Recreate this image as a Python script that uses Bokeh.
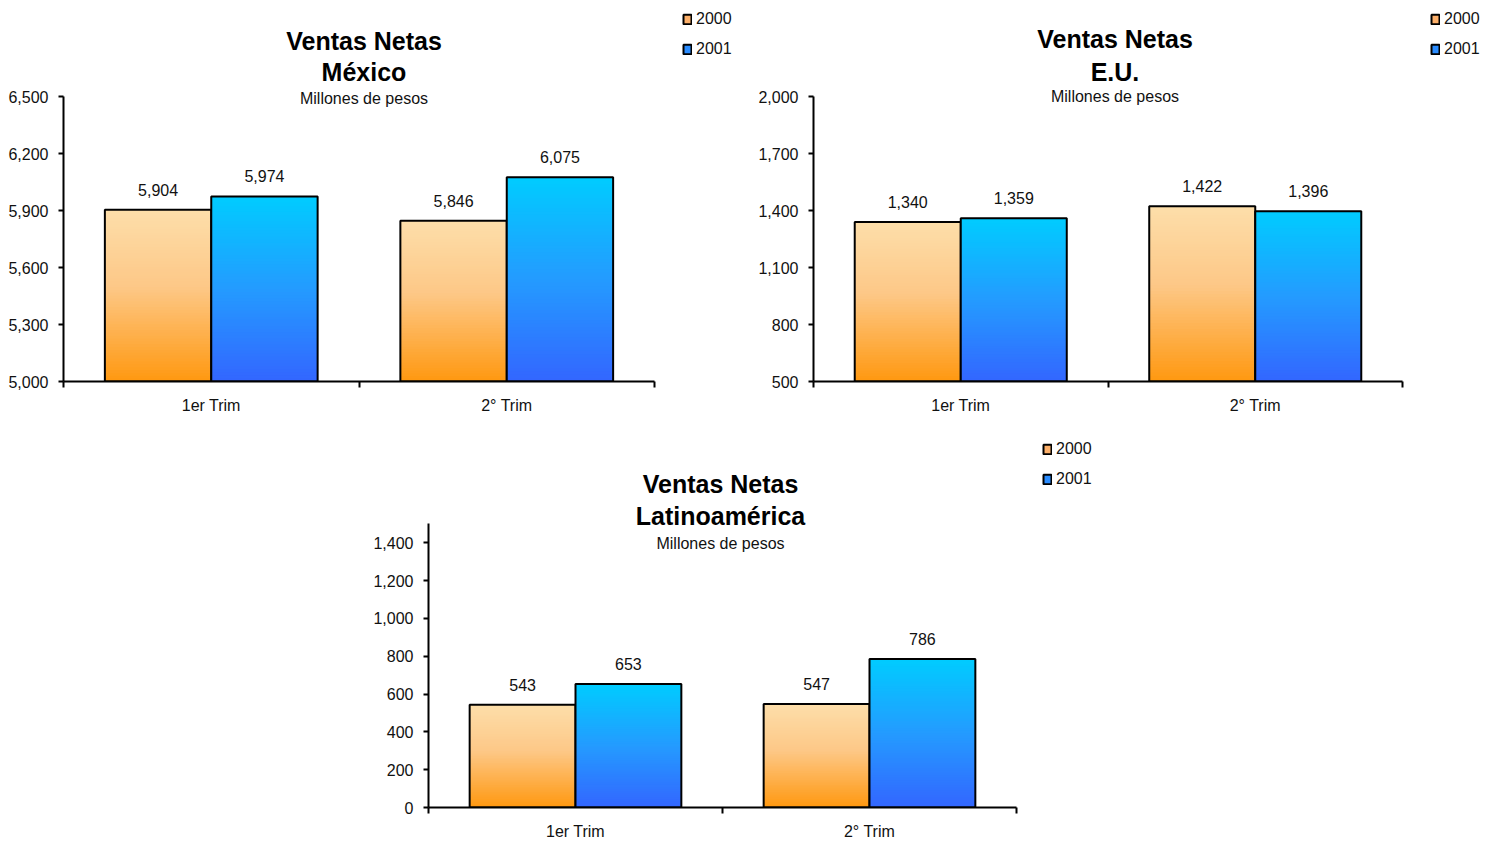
from bokeh.plotting import figure
from bokeh.layouts import column, row
from bokeh.models import (Range1d, FixedTicker, NumeralTickFormatter, Label, Legend,
                          LegendItem, Spacer, LinearAxis)
from bokeh.embed import file_html
from bokeh.resources import INLINE

# ---------------- data ----------------
categories = ["1er Trim", "2° Trim"]
series_names = ["2000", "2001"]

mexico_2000 = [5904, 5846]
mexico_2001 = [5974, 6075]

eu_2000 = [1340, 1422]
eu_2001 = [1359, 1396]

latam_2000 = [543, 547]
latam_2001 = [653, 786]

mexico_ticks = [5000, 5300, 5600, 5900, 6200, 6500]
eu_ticks = [500, 800, 1100, 1400, 1700, 2000]
latam_ticks = [0, 200, 400, 600, 800, 1000, 1200, 1400]

FONT = "Liberation Sans"

# gradient stops (top -> bottom)
ORANGE_STOPS = [(0.0, (253, 222, 170)), (0.45, (253, 200, 135)), (1.0, (255, 152, 16))]
BLUE_STOPS = [(0.0, (0, 204, 255)), (0.5, (36, 155, 255)), (1.0, (51, 102, 255))]
LEGEND_COLORS = ["#fdb06a", "#2a8cff"]


def grad_color(stops, t):
    for (t0, c0), (t1, c1) in zip(stops[:-1], stops[1:]):
        if t <= t1:
            f = (t - t0) / (t1 - t0) if t1 > t0 else 0
            c = [round(a + (b - a) * f) for a, b in zip(c0, c1)]
            return "#%02x%02x%02x" % tuple(c)
    return "#%02x%02x%02x" % stops[-1][1]


BAR_W = 0.36
N_STRIPS = 60
PLOT_H = 285      # pixel height of the value axis
HEAD = 96         # pixels above the value axis reserved for titles


def make_chart(vals_a, vals_b, ymin, ymax, ticks, title2, fig_w, fig_h,
               ml, axis_w, mb, title_offsets, title_dx, legend_xy):
    ncat = len(categories)
    frame_w = fig_w - ml
    x_end = ncat * frame_w / axis_w
    y_end = ymax + HEAD * (ymax - ymin) / PLOT_H
    p = figure(width=fig_w, height=fig_h, output_backend="svg", toolbar_location=None,
               x_range=Range1d(0, x_end), y_range=Range1d(ymin, y_end),
               min_border_left=ml, min_border_right=0, min_border_top=0,
               min_border_bottom=mb, x_axis_type=None, y_axis_type=None)
    p.outline_line_color = None
    p.background_fill_color = "white"
    p.border_fill_color = "white"
    p.xgrid.visible = False
    p.ygrid.visible = False

    # y axis
    yax = LinearAxis(ticker=FixedTicker(ticks=ticks, minor_ticks=[]),
                     formatter=NumeralTickFormatter(format="0,0"), bounds=(ymin, ymax))
    yax.axis_line_width = 2
    yax.axis_line_color = "black"
    yax.major_tick_line_width = 2
    yax.major_tick_line_color = "black"
    yax.major_tick_in = 0
    yax.major_tick_out = 5
    yax.major_label_standoff = 10
    yax.major_label_text_font = FONT
    yax.major_label_text_font_size = "16px"
    yax.major_label_text_color = "#111111"
    p.add_layout(yax, "left")

    # x axis: labels at category centres, ticks between categories
    centers = [i + 0.5 for i in range(ncat)]
    bounds = [float(i) for i in range(ncat + 1)]
    xax = LinearAxis(ticker=FixedTicker(ticks=centers, minor_ticks=bounds), bounds=(0, ncat))
    xax.major_label_overrides = {c: cat for c, cat in zip(centers, categories)}
    xax.axis_line_width = 2
    xax.axis_line_color = "black"
    xax.major_tick_out = 0
    xax.major_tick_in = 0
    xax.minor_tick_out = 6
    xax.minor_tick_in = 0
    xax.minor_tick_line_width = 2
    xax.minor_tick_line_color = "black"
    xax.major_label_standoff = 9
    xax.major_label_text_font = FONT
    xax.major_label_text_font_size = "16px"
    xax.major_label_text_color = "#111111"
    p.add_layout(xax, "below")

    legend_items = []
    # gradient bars (nested rectangles, each covering the lower part of the previous)
    for sname, vals, offset, stops, lcol in (
            (series_names[0], vals_a, -BAR_W / 2, ORANGE_STOPS, LEGEND_COLORS[0]),
            (series_names[1], vals_b, BAR_W / 2, BLUE_STOPS, LEGEND_COLORS[1])):
        xs, bots, tops, cols = [], [], [], []
        for i, v in enumerate(vals):
            h = v - ymin
            for k in range(N_STRIPS):
                t0 = k / N_STRIPS
                xs.append(i + 0.5 + offset)
                tops.append(v - h * t0)
                bots.append(ymin)
                cols.append(grad_color(stops, t0 + 0.5 / N_STRIPS))
        p.vbar(x=xs, bottom=bots, top=tops, width=BAR_W, fill_color=cols, line_color=None)
        # outline
        bx = [i + 0.5 + offset for i in range(len(vals))]
        p.vbar(x=bx, bottom=[ymin] * len(vals), top=vals, width=BAR_W,
               fill_alpha=0, line_color="black", line_width=2)
        # value labels
        p.text(x=bx, y=vals, text=["{:,}".format(v) for v in vals],
               text_align="center", text_baseline="middle", y_offset=-20,
               text_font_size="16px", text_color="#111111", text_font={"value": FONT})
        # legend proxy (zero-size bar at the base of the first bar, hidden by the axis)
        proxy = p.vbar(x=bx[:1], bottom=[ymin], top=[ymin], width=0.0,
                       fill_color=lcol, line_color="black", line_width=2)
        legend_items.append(LegendItem(label=sname, renderers=[proxy]))

    # titles
    (o1, o2, o3) = title_offsets
    midx = ncat / 2
    p.add_layout(Label(x=midx, y=ymax, y_offset=o1, x_offset=title_dx, text="Ventas Netas",
                       text_align="center", text_baseline="middle", text_font=FONT,
                       text_font_size="25px", text_font_style="bold", text_color="black"))
    p.add_layout(Label(x=midx, y=ymax, y_offset=o2, x_offset=title_dx, text=title2,
                       text_align="center", text_baseline="middle", text_font=FONT,
                       text_font_size="25px", text_font_style="bold", text_color="black"))
    p.add_layout(Label(x=midx, y=ymax, y_offset=o3, x_offset=title_dx, text="Millones de pesos",
                       text_align="center", text_baseline="middle", text_font=FONT,
                       text_font_size="16px", text_color="#111111"))

    # legend
    leg = Legend(items=legend_items, location=legend_xy, orientation="vertical")
    leg.glyph_width = 10
    leg.glyph_height = 12
    leg.label_height = 20
    leg.spacing = 10
    leg.padding = 0
    leg.margin = 0
    leg.label_standoff = 4
    leg.border_line_color = None
    leg.background_fill_alpha = 0
    leg.label_text_font = FONT
    leg.label_text_font_size = "16px"
    leg.label_text_color = "#111111"
    p.add_layout(leg, "center")
    return p


p1 = make_chart(mexico_2000, mexico_2001, 5000, 6500, mexico_ticks, "México",
                fig_w=750, fig_h=428, ml=63, axis_w=591, mb=47,
                title_offsets=(56, 25, -2), title_dx=5, legend_xy=(619, 322))
p2 = make_chart(eu_2000, eu_2001, 500, 2000, eu_ticks, "E.U.",
                fig_w=744, fig_h=428, ml=63, axis_w=589, mb=47,
                title_offsets=(58, 25, 0), title_dx=7, legend_xy=(617, 322))
p3 = make_chart(latam_2000, latam_2001, 0, 1500, latam_ticks, "Latinoamérica",
                fig_w=1134, fig_h=414, ml=68, axis_w=588, mb=33,
                title_offsets=(40, 8, -20), title_dx=-2, legend_xy=(614, 318))

layout = column(row(p1, p2), row(Spacer(width=360, height=414), p3))

open("out.html", "w").write(file_html(layout, INLINE))
